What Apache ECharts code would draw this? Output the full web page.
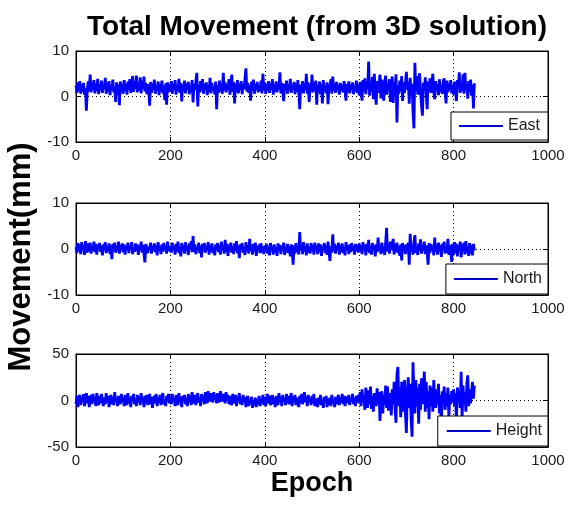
<!DOCTYPE html>
<html>
<head>
<meta charset="utf-8">
<script src="https://cdn.jsdelivr.net/npm/echarts@6/dist/echarts.min.js"></script>
<style>
  html, body { margin: 0; padding: 0; background: #fff; }
  #chart { width: 569px; height: 507px; }
</style>
</head>
<body>
<div id="chart"></div>
<script>
// Sampling interval of the displacement record (epochs between stored values)
const epochStep = 2;

// East component, mm (one row per 100 epochs)
const eastValues = [
  2.4, 0.8, 3.1, 1.2, 3.4, 0.6, 2.7, 1.0, 3.0, 0.4, 1.8, -3.1, 1.5, 3.3, 1.1, 4.8, 0.9, 3.2, 1.4, 3.6, 0.7, 2.9, 1.2, 3.9, 0.5,
  2.6, 1.3, 3.5, 0.8, 2.8, 1.6, 4.1, 0.6, 3.0, 1.1, 3.4, 0.3, 2.5, 1.4, 3.7, 0.9, 2.2, -1.2, 3.1, 0.7, 2.6, -1.9, 3.3, 1.0, 2.8,
  0.6, 3.6, 1.2, 2.9, 0.4, 3.3, 1.5, 3.8, 0.8, 2.6, 4.5, 1.0, 3.4, 1.7, 4.6, 0.9, 3.1, 1.3, 4.2, 0.7, 3.5, 1.6, 4.4, 1.1, 3.0,
  0.5, 2.7, 1.4, -2.0, 3.2, 0.8, 2.9, 1.5, 3.7, 0.6, 2.4, 1.2, 3.3, 0.3, 2.8, 1.0, 3.5, 0.7, 2.3, -0.8, 2.9, -1.8, 3.1, 0.9, 2.6,
  1.1, 3.4, 0.6, 2.8, 1.5, 3.6, 0.4, 2.5, 1.2, 3.9, 0.8, 3.0, -1.1, 2.7, 1.3, 3.5, 0.7, 2.9, 1.6, 3.2, 0.5, 2.4, 1.1, 3.6, -1.3,
  2.8, 1.4, 3.3, 5.2, -2.2, 2.6, 0.9, 3.4, 1.2, 3.8, 0.6, 2.7, 1.5, 3.1, 0.3, 2.5, 1.0, 4.1, 0.7, 3.0, 1.4, 2.2, 0.5, 3.3, -2.8,
  2.4, 0.8, 3.5, 1.1, 2.9, 0.6, 5.2, 1.3, 3.1, 0.9, 2.7, 1.5, 3.8, 0.4, 2.6, 4.8, 1.0, 3.2, -1.5, 2.8, 1.2, 3.6, 0.7, 2.9, 1.4,
  3.4, 0.5, 2.6, 1.6, 3.9, 6.2, 1.1, 3.0, 0.8, 2.5, -0.9, 3.3, 1.3, 3.7, 0.6, 2.8, 1.5, 3.2, 0.9, 2.4, 1.2, 3.5, 0.7, 5.0, 1.4,
  3.1, 0.6, 2.7, 1.3, 3.4, 0.8, 2.9, 1.5, 3.8, 0.4, 2.6, 1.1, 3.3, 0.9, 2.5, 1.6, 5.3, 0.7, 3.0, 1.2, -1.0, 2.8, 1.4, 3.5, 0.6,
  2.7, 1.3, 3.9, 0.8, 2.4, 1.5, 3.2, 0.5, 2.9, 1.0, 3.6, 0.9, -2.8, 2.6, 1.2, 3.4, 0.7, 2.8, 1.4, 5.0, 0.6, 3.1, -1.2, 2.5, 1.1,
  4.8, 0.9, 3.0, 1.3, 3.5, -1.8, 2.6, 1.1, 3.3, 0.5, 2.8, -1.5, 3.6, 1.2, 2.4, 0.7, 3.1, -1.7, 2.7, 1.4, 3.8, 0.6, 4.4, 1.3, 2.9,
  0.8, 3.2, 1.5, 2.6, 0.4, 3.0, 1.2, 2.5, 0.9, 3.4, 1.3, -0.9, 2.8, 1.1, 3.3, 0.7, 2.6, 1.5, 3.1, 0.5, 2.4, 1.2, 3.5, 0.8, 2.7,
  0.3, 3.2, 1.4, -0.9, 3.6, 1.1, 4.0, 0.5, 2.8, 1.6, 7.7, 0.2, 3.3, 1.0, 4.3, -0.6, 5.0, 1.5, -1.8, 3.4, 0.8, 2.6, 4.8, -0.4, 3.7,
  1.2, -0.9, 3.0, 4.6, 0.4, 2.9, 1.3, 3.8, -1.2, 2.7, 4.4, -1.4, 3.2, 1.0, 4.9, -5.7, 2.4, 0.6, 3.5, 1.1, 4.5, -1.0, 3.1, 0.8, 2.6,
  5.4, 1.5, 3.2, -1.6, 4.1, 0.7, 2.8, -3.5, -7.0, 7.4, 1.2, 4.5, 0.4, 3.6, 5.1, 1.0, -1.9, -4.2, 3.0, 1.4, 4.2, 0.6, -2.8, 3.3, 1.2,
  4.0, 0.8, 2.9, 5.0, 1.1, -0.6, 3.4, 1.5, 2.7, 0.3, 3.8, 1.0, 2.5, 0.6, 3.2, 4.0, 1.3, -1.5, 3.5, 0.9, 2.8, 1.4, 3.6, 0.7, 2.5,
  0.4, 3.3, 1.2, -1.0, 3.6, 1.5, 5.3, 0.8, 3.0, 1.2, 4.9, 0.6, 5.2, 1.4, 2.8, -0.5, 3.4, 1.0, 3.7, 0.2, 2.6, -2.6, 2.9
];

// North component, mm
const northValues = [
  0.4, -0.9, 1.3, -0.4, 1.0, -1.1, 1.5, -0.2, 0.8, -1.3, 1.7, 0.0, -0.8, 1.2, -0.5, 1.4, -1.0, 0.6, -0.3, 1.6, -0.7, 1.1, -1.2, 0.9, -0.1,
  1.3, -0.6, 0.7, -1.4, 1.0, -0.2, 1.5, -0.9, 0.5, -0.4, 1.2, -1.1, 0.8, -2.2, 1.1, -0.3, 1.4, -0.8, 0.6, -0.5, 1.6, -1.0, 0.9, -0.2, 1.2,
  -0.7, 1.0, -1.2, 0.6, -0.3, 1.4, -0.9, 0.8, -0.1, 1.5, -1.1, 0.4, -0.6, 1.2, -0.4, 1.0, -1.3, 0.7, 0.0, 1.6, -0.8, 0.9, 0.6, -2.9, 1.1,
  1.3, -0.9, 0.5, -0.2, 1.4, -1.0, 0.7, -0.4, 1.2, -0.7, 0.9, -1.4, 1.5, -0.3, 0.6, -1.1, 1.0, -0.6, 1.3, -0.2, 0.8, -1.0, 1.6, -0.5, 0.7,
  0.9, -0.8, 1.4, -0.3, 0.7, -1.2, 1.1, -0.5, 1.6, -0.9, 0.4, -1.6, 1.3, -0.2, 0.8, -1.0, 1.5, -0.4, 0.6, -1.3, 1.2, -0.1, 1.7, -0.7, 2.8,
  -0.6, 1.0, -1.1, 0.5, -0.3, 1.4, -0.9, 0.7, -1.8, 1.1, -0.4, 1.3, -0.8, 0.6, -0.2, 1.5, -1.2, 0.9, -0.5, 1.2, -0.9, 0.3, -1.4, 1.0, -0.3,
  1.3, -0.7, 0.8, -1.2, 1.6, -0.2, 0.5, -1.0, 2.0, -0.6, 1.1, -1.5, 0.9, -0.3, 1.4, -0.8, 0.6, -1.1, 1.2, -0.4, 1.7, -0.9, 0.7, -2.0, 1.0,
  -0.2, 1.3, -0.8, 0.4, -1.3, 1.5, -0.5, 0.9, -1.0, 2.2, -0.4, 0.8, -1.2, 1.1, -0.6, 1.4, -1.5, 0.6, -0.3, 1.0, -0.9, 1.3, -0.7, 0.5, -1.1,
  0.8, -0.6, 1.1, -1.0, 0.5, -1.4, 1.3, -0.3, 0.7, -1.2, 1.0, -0.8, 0.4, -1.5, 1.2, -0.5, 0.9, -1.1, 0.6, -0.2, 1.4, -1.3, 0.3, -0.7, 1.1,
  -0.9, 0.6, -1.6, 1.0, -0.4, -3.4, 0.8, -1.0, 1.3, -0.6, 0.5, -1.2, 3.7, -0.3, 0.9, -1.1, 1.5, -0.5, 0.7, -1.4, 1.2, -0.8, 0.4, -1.0, 1.3,
  -0.5, 0.9, -1.2, 1.4, -0.3, 0.7, -1.1, 1.2, -0.6, 1.0, -1.5, 0.5, -0.2, 1.3, -0.9, 0.8, -1.3, 1.6, -0.4, -2.6, 0.6, -0.8, 3.2, -0.5, 1.1,
  -1.0, 0.7, -0.3, 1.4, -1.2, 0.9, -0.6, 1.2, -0.9, 0.4, -1.4, 1.5, -0.2, 0.8, -1.1, 1.0, -0.7, 1.3, -0.4, 0.6, -1.2, 1.1, -0.5, 0.9, -0.8,
  1.2, -0.6, 0.8, -1.1, 1.5, -0.3, 0.9, -1.4, 1.1, -0.5, 2.0, -0.9, 0.6, -1.2, 1.3, -0.2, 0.8, -1.6, 1.0, -0.7, 2.5, -0.4, 0.9, -1.1, 1.4,
  -0.8, 0.5, -1.3, 1.2, 4.6, -0.5, 0.7, -1.0, 1.6, -0.3, 0.9, 2.2, -1.2, 1.1, -0.6, 1.4, -0.9, 0.6, -1.5, 1.0, -2.5, 1.3, -0.4, 0.8, -1.1,
  1.0, -0.7, 1.4, -3.4, 3.3, -0.5, 0.9, -1.2, 1.5, 3.0, -0.8, 0.6, -1.3, 1.2, -0.4, 2.1, -1.0, 0.7, -0.3, 1.6, -1.1, 0.8, -0.6, -3.4, 1.3,
  -0.9, 1.1, -0.2, 0.7, -1.4, 2.5, -0.6, 1.0, -1.2, 1.4, -0.5, 0.8, -1.7, 1.2, -0.3, 1.6, -1.0, 0.6, -0.8, 2.2, -1.3, 0.9, -0.4, -2.8, 1.1,
  -1.3, 1.5, -0.9, 1.2, -1.6, 0.8, -0.4, 1.6, -1.8, 1.0, -0.6, 1.4, -1.2, 1.7, -0.8, 0.5, -1.5, 1.3, -1.0, 0.9, -1.4, 1.1, -0.3
];

// Height component, mm
const heightValues = [
  -4, 5, -7, 3, 6, -5, 4, -2, 7, -6, 2, 8, -3, 5, -7, 1, 6, -4, 7, -1, 4, -6, 8, 0, -5,
  5, -3, 7, 1, -6, 3, -4, 8, -2, 5, -7, 2, 6, -4, 4, -5, 9, -1, 3, -6, 5, 0, -4, 7, -2,
  4, -6, 6, 1, -5, 8, -3, 3, -7, 5, 0, 7, -4, 2, -6, 6, -2, 4, -5, 8, -1, 3, -7, 5, -3,
  6, -5, 2, 7, -4, 4, -8, 1, 5, -3, 7, -6, 3, -2, 6, -5, 4, 8, -4, 1, -6, 5, -1, 7, -3,
  5, -4, 7, -1, 3, -6, 6, 1, -5, 8, -2, 4, -7, 5, 0, 6, -4, 3, -6, 7, -2, 5, -5, 9, 1,
  -3, 6, -5, 4, 8, -2, 3, -6, 7, 0, 5, -4, 9, 2, -3, 10, 4, -1, 8, 3, -2, 9, 1, 6, -3,
  8, 2, -2, 10, 4, -1, 7, 3, -3, 9, 0, 6, -4, 5, 1, -5, 7, 2, -3, 6, -6, 4, 0, 8, -4,
  3, -5, 6, -2, 4, -7, 2, 5, -6, 1, -3, 4, -8, 0, -5, 3, -7, 1, -4, 5, -6, 2, -3, 6, -5,
  4, -6, 2, 7, -3, 5, -5, 1, 6, -4, 3, -7, 5, 0, -5, 8, -2, 4, -6, 6, -1, 3, -5, 7, -3,
  5, -4, 2, 8, -6, 4, -2, 6, -5, 3, 1, -7, 5, -3, 7, -4, 2, 9, -2, 4, -6, 6, -1, 3, -5,
  5, -3, 7, -6, 2, 4, -7, 3, -4, 6, -5, 1, -8, 4, -2, 5, -7, 2, -5, 3, -6, 6, -3, 1, -7,
  4, -4, 2, 6, -5, 3, -2, 7, -4, 5, -6, 1, 4, -3, 6, -5, 2, -1, 7, -4, 3, -6, 5, -2, 6,
  -3, 9, -6, 12, -2, 6, -10, 14, 0, -8, 11, -4, 15, -9, 5, -12, 8, 2, -6, 13, -3, 9, -22, 4, 10,
  -14, 6, -5, 16, -8, 15, -11, 3, 8, -16, 12, -4, 20, -9, -24, 28, 36, -6, 14, -18, 20, 4, -12, 22, -15,
  -35, 10, 25, -8, 18, -20, -39, 41, 8, -14, 22, -6, 14, -25, 18, -10, 24, -4, 12, 31, -12, 20, -8, 10, -20,
  16, -6, 14, -12, 22, 4, -8, 12, -4, 18, -14, 6, -30, 10, -2, 15, -10, 8, -6, 14, -18, 6, -4, 10, -2,
  12, -6, 8, -22, 14, 2, 10, -8, 31, -20, 16, -4, 9, -12, 18, 27, -6, 12, -3, 8, 20, 2, 16
];

// Panel names, y ranges and x tick layout
const seriesNames = ['East', 'North', 'Height'];
const yRanges = [[-10, 10, 10], [-10, 10, 10], [-50, 50, 50]];
const xTicks = [0, 1000, 200];

const FONT = '"Liberation Sans", Arial, Helvetica, sans-serif';
const INK = '#1a1a1a';

function toPairs(values) {
  return values.map((v, i) => [i * epochStep, v]);
}
const allValues = [eastValues, northValues, heightValues];

// panel geometry
const panels = [
  { top: 51, height: 91, legendTop: 112, legendPad: [6, 8, 6, 8] },
  { top: 203, height: 92, legendTop: 264, legendPad: [7, 6, 7, 8] },
  { top: 354, height: 93, legendTop: 416, legendPad: [7, 6, 7, 9] }
];
const LEFT = 76, WIDTH = 472;

const grids = [], xAxes = [], yAxes = [], series = [], legends = [];
const dotted = { color: '#000', width: 1, type: [1, 3] };
const plain = (v) => String(v);

panels.forEach((p, k) => {
  grids.push({ left: LEFT, top: p.top, width: WIDTH, height: p.height,
    show: true, borderColor: '#000', borderWidth: 1, backgroundColor: '#fff' });

  // bottom axis with labels and vertical grid lines
  xAxes.push({
    gridIndex: k, type: 'value', position: 'bottom',
    min: xTicks[0], max: xTicks[1], interval: xTicks[2],
    axisLine: { show: true, onZero: false, lineStyle: { color: '#000', width: 1 } },
    axisTick: { show: true, inside: true, length: 5, lineStyle: { color: '#000' } },
    axisLabel: { show: true, margin: 6, color: INK, fontFamily: FONT, fontSize: 15, formatter: plain },
    splitLine: { show: true, lineStyle: dotted }
  });
  // top axis: ticks only
  xAxes.push({
    gridIndex: k, type: 'value', position: 'top',
    min: xTicks[0], max: xTicks[1], interval: xTicks[2],
    axisLine: { show: true, onZero: false, lineStyle: { color: '#000', width: 1 } },
    axisTick: { show: true, inside: true, length: 5, lineStyle: { color: '#000' } },
    axisLabel: { show: false }, splitLine: { show: false }
  });

  const [ymin, ymax, yint] = yRanges[k];
  yAxes.push({
    gridIndex: k, type: 'value', position: 'left',
    min: ymin, max: ymax, interval: yint,
    axisLine: { show: true, onZero: false, lineStyle: { color: '#000', width: 1 } },
    axisTick: { show: true, inside: true, length: 5, lineStyle: { color: '#000' } },
    axisLabel: { show: true, margin: 7, color: INK, fontFamily: FONT, fontSize: 15, formatter: plain },
    splitLine: { show: true, lineStyle: dotted }
  });
  yAxes.push({
    gridIndex: k, type: 'value', position: 'right',
    min: ymin, max: ymax, interval: yint,
    axisLine: { show: true, onZero: false, lineStyle: { color: '#000', width: 1 } },
    axisTick: { show: true, inside: true, length: 5, lineStyle: { color: '#000' } },
    axisLabel: { show: false }, splitLine: { show: false }
  });

  series.push({
    name: seriesNames[k], type: 'line',
    xAxisIndex: 2 * k, yAxisIndex: 2 * k,
    data: toPairs(allValues[k]),
    showSymbol: false, symbol: 'none',
    lineStyle: { color: '#0000ff', width: 2.8 },
    itemStyle: { color: '#0000ff' },
    z: 3
  });

  legends.push({
    data: [seriesNames[k]],
    right: 569 - (LEFT + WIDTH), top: p.legendTop,
    orient: 'horizontal',
    icon: 'rect', itemWidth: 44, itemHeight: 2,
    backgroundColor: '#fff', borderColor: '#000', borderWidth: 1, borderRadius: 0,
    padding: p.legendPad,
    selectedMode: false,
    itemStyle: { color: '#0000c8' },
    textStyle: { color: INK, fontFamily: FONT, fontSize: 16 },
    z: 10
  });
});

const chart = echarts.init(document.getElementById('chart'), null, { renderer: 'canvas' });
chart.setOption({
  animation: false,
  backgroundColor: '#fff',
  grid: grids,
  xAxis: xAxes,
  yAxis: yAxes,
  series: series,
  legend: legends,
  graphic: [
    {
      type: 'text', x: 317, y: 27,
      style: { text: 'Total Movement (from 3D solution)', fill: '#000',
        font: 'bold 28px ' + FONT, align: 'center', verticalAlign: 'middle' }
    },
    {
      type: 'text', x: 21, y: 257, rotation: Math.PI / 2,
      style: { text: 'Movement(mm)', fill: '#000',
        font: 'bold 31px ' + FONT, align: 'center', verticalAlign: 'middle' }
    },
    {
      type: 'text', x: LEFT + WIDTH / 2, y: 484,
      style: { text: 'Epoch', fill: '#000',
        font: 'bold 27px ' + FONT, align: 'center', verticalAlign: 'middle' }
    }
  ]
});
</script>
</body>
</html>
